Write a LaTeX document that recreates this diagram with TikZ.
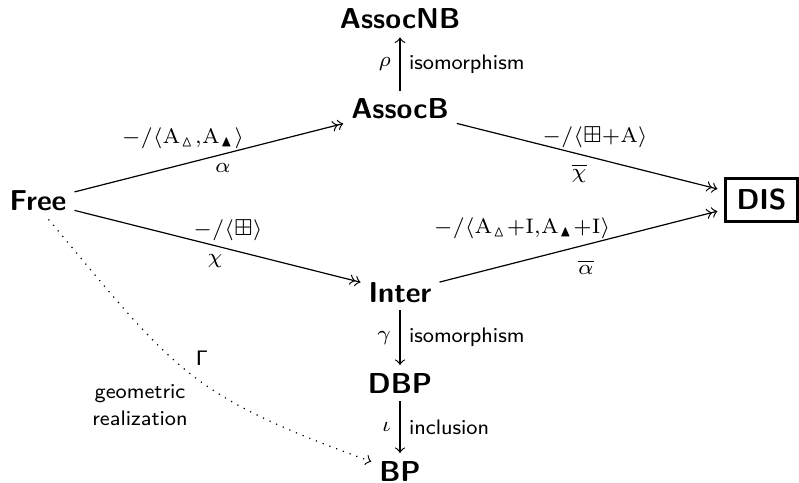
\documentclass[tikz,border=0pt]{standalone}
\usepackage{amssymb}
\begin{document}
\begin{tikzpicture}[x=0.3333pt,y=-0.3333pt,
  obj/.style={font=\fontsize{9.6}{11}\selectfont\sffamily\bfseries, inner sep=2.5pt, anchor=base},
  lbl/.style={font=\fontsize{7}{8.5}\selectfont, inner sep=2.8pt},
  tlbl/.style={font=\fontsize{7}{9}\selectfont\sffamily, inner sep=2.8pt},
  map/.style={->>, line width=0.4pt},
  vmap/.style={->, line width=0.4pt},
]
\useasboundingbox (0,0) rectangle (799,483);
% objects
\node[obj] (NB) at (400,29) {AssocNB};
\node[obj] (B) at (400,119) {AssocB};
\node[obj] (F) at (38,211) {Free};
\node[obj] (I) at (400,302) {Inter};
\node[obj] (D) at (400,393) {DBP};
\node[obj] (P) at (400,481) {BP};
\node[obj, draw, line width=0.8pt, anchor=center, minimum width=24pt, minimum height=14.4pt, outer sep=2.7pt] (S) at (761.5,200) {DIS};
% slanted maps
\draw[map] (F) -- (B);
\draw[map] (B) -- (S);
\draw[map] (F) -- (I);
\draw[map] (I) -- (S);
% vertical maps
\draw[vmap] (B) -- node[tlbl, right] (isoA) {isomorphism} node[lbl, left] (rho) {$\rho$} (NB);
\draw[vmap] (I) -- node[tlbl, right] (isoB) {isomorphism} node[lbl, left] (gam) {$\gamma$} (D);
\draw[vmap] (D) -- node[tlbl, right] (incl) {inclusion} node[lbl, left] (iot) {$\iota$} (P);
% geometric realization
\draw[->, dotted, line width=0.4pt] (F.-60) to[out=-50,in=160,looseness=1.25] (P.162);
% labels of slanted maps
\node[lbl, inner sep=0pt] (la) at (183,138) {$-/\langle \mathrm{A}_{\vartriangle}{,}\mathrm{A}_{\blacktriangle}\rangle$};
\node[lbl, inner sep=0pt] (lalpha) at (223,168) {$\alpha$};
\node[lbl, inner sep=0pt] (lc) at (595,137.5) {$-/\langle \boxplus{+}\mathrm{A}\rangle$};
\node[lbl, inner sep=0pt] (lchibar) at (579,173) {$\overline{\chi}$};
\node[lbl, inner sep=0pt] (lb) at (228,230) {$-/\langle \boxplus\rangle$};
\node[lbl, inner sep=0pt] (lchi) at (215,261) {$\chi$};
\node[lbl, inner sep=0pt] (ld) at (522,228) {$-/\langle \mathrm{A}_{\vartriangle}{+}\mathrm{I}{,}\mathrm{A}_{\blacktriangle}{+}\mathrm{I}\rangle$};
\node[lbl, inner sep=0pt] (lalphabar) at (586,267) {$\overline{\alpha}$};
\node[lbl, inner sep=0pt] (lGamma) at (202,358) {$\mathsf{\Gamma}$};
\node[tlbl, inner sep=0pt, align=center, anchor=base] (lgeo) at (140,425) {geometric\\realization};
\end{tikzpicture}
\end{document}
